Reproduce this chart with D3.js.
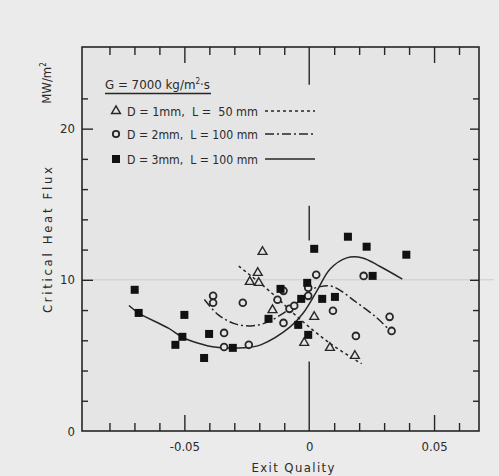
<!DOCTYPE html>
<html>
<head>
<meta charset="utf-8">
<script src="https://cdn.jsdelivr.net/npm/d3@7"></script>
<style>
  html, body { margin: 0; padding: 0; background: #ebebeb; }
  svg { display: block; }
  text { font-family: "DejaVu Sans Condensed", "DejaVu Sans", sans-serif; fill: #2a2a2a; }
</style>
</head>
<body>
<script>
// D = 1 mm, L = 50 mm (triangles)
var triX = [-0.0187, -0.0206, -0.0238, -0.0202, -0.0147, 0.0020, -0.0020, 0.0083, 0.0183];
var triY = [11.85, 10.46, 9.87, 9.80, 8.00, 7.55, 5.83, 5.50, 4.97];
// D = 2 mm, L = 100 mm (circles)
var cirX = [-0.0385, -0.0385, -0.0341, -0.0341, -0.0242, -0.0266, -0.0103, -0.0127, -0.0103,
            -0.0079, -0.0060, -0.0004, -0.0004, 0.0028, 0.0095, 0.0218, 0.0322, 0.0330, 0.0187];
var cirY = [8.94, 8.48, 6.49, 5.56, 5.70, 8.48, 9.27, 8.68, 7.15,
            8.08, 8.28, 8.94, 9.47, 10.33, 7.95, 10.26, 7.55, 6.62, 6.29];
// D = 3 mm, L = 100 mm (squares)
var sqX = [-0.0699, -0.0683, -0.0500, -0.0508, -0.0536, -0.0401, -0.0421, -0.0306, -0.0163, -0.0115,
           -0.0044, -0.0032, -0.0008, -0.0004, 0.0020, 0.0052, 0.0103, 0.0155, 0.0230, 0.0254, 0.0389];
var sqY = [9.34, 7.81, 7.68, 6.23, 5.70, 6.42, 4.83, 5.50, 7.42, 9.40,
           7.02, 8.74, 9.80, 6.36, 12.05, 8.74, 8.87, 12.85, 12.19, 10.26, 11.66];

// hand-drawn trend curves
var dashX = [-0.0282, -0.0155, -0.0044, 0.0083, 0.0210];
var dashY = [10.9, 9.2, 7.5, 5.8, 4.45];
var dotdashX = [-0.0420, -0.0365, -0.0300, -0.0234, -0.0175, -0.0103, -0.0048, 0.0004, 0.0044, 0.0095, 0.0190, 0.0270, 0.0314];
var dotdashY = [8.7, 7.7, 7.1, 6.95, 7.15, 7.8, 8.5, 9.3, 9.55, 9.55, 8.5, 7.5, 6.8];
var solidX = [-0.0722, -0.0683, -0.0564, -0.0508, -0.0444, -0.0380, -0.0260, -0.0194, -0.0075, -0.0024,
              0.0032, 0.0083, 0.0150, 0.0214, 0.0282, 0.0373];
var solidY = [8.3, 7.8, 6.8, 6.2, 5.8, 5.55, 5.5, 5.7, 6.9, 7.8,
              9.3, 10.7, 11.45, 11.45, 10.9, 10.05];

var xTicksMinor = [-0.08, -0.07, -0.06, -0.04, -0.03, -0.02, -0.01, 0.01, 0.02, 0.03, 0.04, 0.06];
var xTicksMajor = [-0.05, 0.05];
var xLabels = [-0.05, 0, 0.05];
var yTicksMinor = [2, 4, 6, 8, 12, 14, 16, 18, 22];
var yTicksMajor = [10, 20];
var yLabels = [0, 10, 20];

var W = 499, H = 476;
var margin = {top: 47, right: 20, bottom: 45, left: 82};
var width = W - margin.left - margin.right,
    height = H - margin.top - margin.bottom;

var svg = d3.select("body").append("svg")
  .attr("width", W).attr("height", H)
  .append("g")
  .attr("transform", "translate(" + margin.left + "," + margin.top + ")");

var x = d3.scaleLinear().domain([-0.091, 0.068]).range([0, width]);
var y = d3.scaleLinear().domain([0, 25.4]).range([height, 0]);

var ink = "#262626";

// plot paper
svg.append("rect").attr("width", width).attr("height", height).attr("fill", "#e5e5e5");
// faint fold line of the scan
svg.append("line").attr("x1", 0).attr("x2", width + 15)
  .attr("y1", y(10)).attr("y2", y(10)).attr("stroke", "#cdcdcd").attr("stroke-width", 1);

///////////////////////////
// AXES (ticks point inward)
function tickAxis(axis, vals, size) {
  return axis.tickValues(vals).tickSize(-size).tickFormat("");
}
svg.append("g").attr("transform", "translate(0," + height + ")")
  .call(tickAxis(d3.axisBottom(x), xTicksMinor, 8));
svg.append("g").attr("transform", "translate(0," + height + ")")
  .call(tickAxis(d3.axisBottom(x), xTicksMajor, 16));
svg.append("g").attr("transform", "translate(0," + height + ")")
  .call(d3.axisBottom(x).tickValues(xLabels).tickSize(0).tickPadding(11)
    .tickFormat(function(d){ return d === 0 ? "0" : d3.format(".2f")(d).replace("\u2212", "-"); }));

svg.append("g").call(tickAxis(d3.axisTop(x), xTicksMinor, 8));
svg.append("g").call(tickAxis(d3.axisTop(x), xTicksMajor, 16));

svg.append("g").call(tickAxis(d3.axisLeft(y), yTicksMinor, 6));
svg.append("g").call(tickAxis(d3.axisLeft(y), yTicksMajor, 11));
svg.append("g")
  .call(d3.axisLeft(y).tickValues(yLabels).tickSize(0).tickPadding(7).tickFormat(d3.format("d")));

svg.append("g").attr("transform", "translate(" + width + ",0)")
  .call(tickAxis(d3.axisRight(y), yTicksMinor, 6));
svg.append("g").attr("transform", "translate(" + width + ",0)")
  .call(tickAxis(d3.axisRight(y), yTicksMajor, 9));

svg.selectAll(".domain").remove();
svg.selectAll(".tick line").attr("stroke", ink).attr("stroke-width", 1.4);
svg.selectAll(".tick text").attr("font-size", 13).attr("fill", ink)
  .style("font-family", "'DejaVu Sans Condensed', sans-serif");

// frame
svg.append("rect").attr("width", width).attr("height", height)
  .attr("fill", "none").attr("stroke", ink).attr("stroke-width", 1.6);

// x = 0 reference line (interrupted by legend and data)
[[0, 4.6], [12.6, 14.9], [22.9, 25.4]].forEach(function(s) {
  svg.append("line").attr("x1", x(0)).attr("x2", x(0))
    .attr("y1", y(s[0])).attr("y2", y(s[1]))
    .attr("stroke", ink).attr("stroke-width", 1.4);
});

///////////////////////////
// CURVES
var line = d3.line().x(function(d){ return x(d[0]); }).y(function(d){ return y(d[1]); })
  .curve(d3.curveCatmullRom.alpha(0.5));
function pairs(a, b) { return a.map(function(v, i){ return [v, b[i]]; }); }

svg.append("path").datum(pairs(dashX, dashY)).attr("d", line)
  .attr("fill", "none").attr("stroke", ink).attr("stroke-width", 1.5).attr("stroke-dasharray", "3,3");
svg.append("path").datum(pairs(dotdashX, dotdashY)).attr("d", line)
  .attr("fill", "none").attr("stroke", ink).attr("stroke-width", 1.5).attr("stroke-dasharray", "9,3,2,3");
svg.append("path").datum(pairs(solidX, solidY)).attr("d", line)
  .attr("fill", "none").attr("stroke", ink).attr("stroke-width", 1.5);

///////////////////////////
// MARKERS
var triPath = d3.symbol().type(d3.symbolTriangle).size(34);
svg.append("g").selectAll("path").data(pairs(triX, triY)).enter().append("path")
  .attr("d", triPath)
  .attr("transform", function(d){ return "translate(" + x(d[0]) + "," + y(d[1]) + ")"; })
  .attr("fill", "#e5e5e5").attr("stroke", ink).attr("stroke-width", 1.4);

svg.append("g").selectAll("circle").data(pairs(cirX, cirY)).enter().append("circle")
  .attr("cx", function(d){ return x(d[0]); })
  .attr("cy", function(d){ return y(d[1]); })
  .attr("r", 3.4)
  .attr("fill", "#e5e5e5").attr("stroke", ink).attr("stroke-width", 1.8);

svg.append("g").selectAll("rect").data(pairs(sqX, sqY)).enter().append("rect")
  .attr("x", function(d){ return x(d[0]) - 4; })
  .attr("y", function(d){ return y(d[1]) - 4; })
  .attr("width", 8).attr("height", 8)
  .attr("fill", "#111");

///////////////////////////
// LEGEND
var leg = d3.select("svg").append("g");
leg.append("text").attr("x", 105).attr("y", 89).attr("font-size", 13)
  .attr("textLength", 105).attr("lengthAdjust", "spacingAndGlyphs")
  .html("G = 7000 kg/m<tspan dy='-5' font-size='8'>2</tspan><tspan dy='5'>·s</tspan>");
leg.append("line").attr("x1", 105).attr("x2", 211).attr("y1", 93.5).attr("y2", 93.5)
  .attr("stroke", ink).attr("stroke-width", 1.5);

var rows = [
  {y: 111, label: "D = 1mm,  L =  50 mm", dash: "3,3"},
  {y: 134, label: "D = 2mm,  L = 100 mm", dash: "9,3,2,3"},
  {y: 159, label: "D = 3mm,  L = 100 mm", dash: null}
];
rows.forEach(function(r) {
  leg.append("text").attr("x", 127).attr("y", r.y + 5).attr("font-size", 13)
    .attr("xml:space", "preserve")
    .attr("textLength", 131).attr("lengthAdjust", "spacingAndGlyphs")
    .text(r.label);
  var ln = leg.append("line").attr("x1", 265).attr("x2", 315).attr("y1", r.y).attr("y2", r.y)
    .attr("stroke", ink).attr("stroke-width", 1.5);
  if (r.dash) ln.attr("stroke-dasharray", r.dash);
});
leg.append("path").attr("d", triPath).attr("transform", "translate(116,111)")
  .attr("fill", "none").attr("stroke", ink).attr("stroke-width", 1.4);
leg.append("circle").attr("cx", 116).attr("cy", 134).attr("r", 3.2)
  .attr("fill", "none").attr("stroke", ink).attr("stroke-width", 1.8);
leg.append("rect").attr("x", 112).attr("y", 155).attr("width", 8).attr("height", 8).attr("fill", "#111");

///////////////////////////
// AXIS TITLES
var root = d3.select("svg");
root.append("text").attr("transform", "translate(52,240) rotate(-90)")
  .attr("text-anchor", "middle").attr("font-size", 13)
  .attr("textLength", 146).attr("lengthAdjust", "spacing")
  .text("Critical Heat Flux");
root.append("text").attr("transform", "translate(51,83) rotate(-90)")
  .attr("text-anchor", "middle").attr("font-size", 13)
  .html("MW/m<tspan dy='-5' font-size='8'>2</tspan>");
root.append("text").attr("x", 293).attr("y", 472)
  .attr("text-anchor", "middle").attr("font-size", 13)
  .attr("textLength", 83).attr("lengthAdjust", "spacing")
  .text("Exit  Quality");
</script>
</body>
</html>
